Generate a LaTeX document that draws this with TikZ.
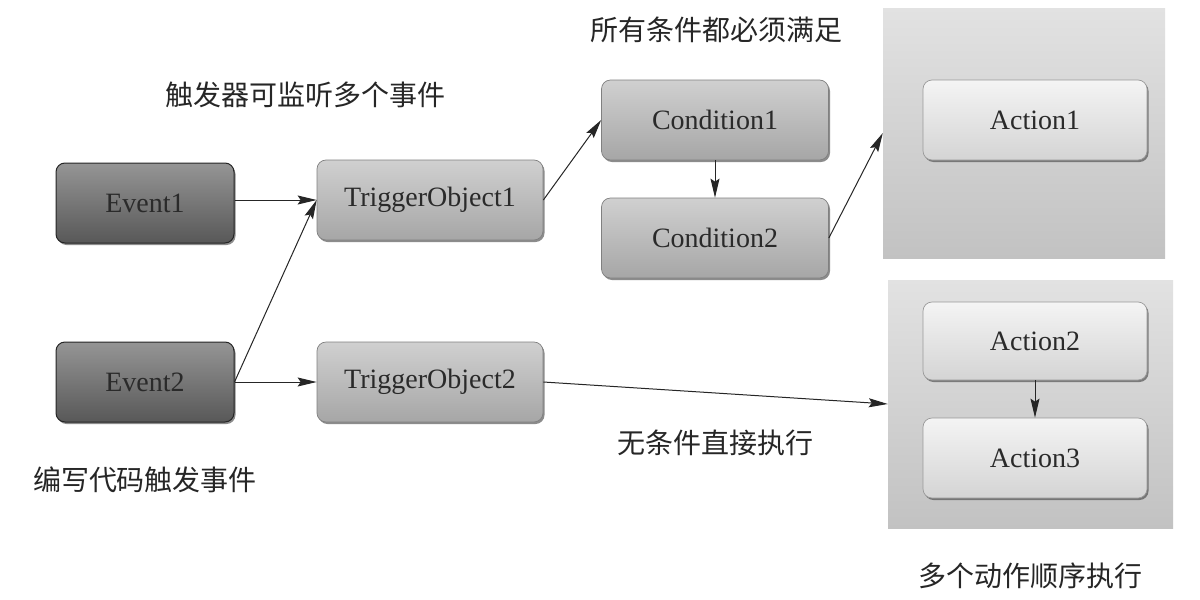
\documentclass[tikz,border=0pt]{standalone}
\usepackage{fontspec}
\setmainfont{Liberation Serif}
\newfontfamily\cjk{Noto Sans CJK SC}
\usetikzlibrary{arrows.meta,shadows}
\definecolor{evtop}{HTML}{959595}
\definecolor{evbot}{HTML}{585858}
\definecolor{mdtop}{HTML}{D0D0D0}
\definecolor{mdbot}{HTML}{A6A6A6}
\definecolor{actop}{HTML}{F4F4F4}
\definecolor{acbot}{HTML}{D4D4D4}
\definecolor{pntop}{HTML}{E2E2E2}
\definecolor{pnbot}{HTML}{C2C2C2}
\definecolor{txt}{HTML}{2A2A2A}
\tikzset{
  basebox/.style={rectangle, rounded corners=9pt, minimum width=226pt, minimum height=80pt,
    inner sep=0pt, font=\fontsize{28}{30}\selectfont, text=txt,
    drop shadow={shadow xshift=1.5pt, shadow yshift=-2pt, opacity=0.6, fill=black!75}},
  evbox/.style={basebox, minimum width=178pt, top color=evtop, bottom color=evbot, draw=black!85, line width=1pt},
  midbox/.style={basebox, top color=mdtop, bottom color=mdbot, draw=black!50, line width=0.7pt},
  actbox/.style={basebox, minimum width=224pt, top color=actop, bottom color=acbot, draw=black!40, line width=0.7pt},
  panel/.style={rectangle, inner sep=0pt, top color=pntop, bottom color=pnbot, draw=none},
  cjklabel/.style={font=\cjk\fontsize{28}{30}\selectfont, text=black!85, inner sep=0pt},
  conn/.style={line width=1pt, black!85, -{Stealth[length=19pt,width=9pt,inset=3pt]}}
}
\begin{document}
\begin{tikzpicture}[x=1pt,y=-1pt]
\useasboundingbox[fill=white] (0,0) rectangle (1200,600);
% panels
\node[panel, minimum width=282pt, minimum height=250pt] (p1) at (1024,133) {};
\node[panel, minimum width=285pt, minimum height=248pt] (p2) at (1030.5,404) {};
% boxes
\node[evbox] (e1) at (145,203) {Event1};
\node[evbox] (e2) at (145,382) {Event2};
\node[midbox] (t1) at (430,200) {TriggerObject1};
\node[midbox] (t2) at (430,382) {TriggerObject2};
\node[midbox, minimum width=227pt] (c1) at (715,120) {Condition1};
\node[midbox, minimum width=227pt] (c2) at (715,238) {Condition2};
\node[actbox] (a1) at (1035,120) {Action1};
\node[actbox, minimum height=78pt] (a2) at (1035,341) {Action2};
\node[actbox] (a3) at (1035,458) {Action3};
% labels
\node[cjklabel] (l1) at (716,30) {所有条件都必须满足};
\node[cjklabel] (l2) at (305,95) {触发器可监听多个事件};
\node[cjklabel] (l3) at (145,480) {编写代码触发事件};
\node[cjklabel] (l4) at (715,443) {无条件直接执行};
\node[cjklabel] (l5) at (1030,576) {多个动作顺序执行};
% connectors
\draw[conn] (e1.east |- t1.west) -- (t1.west);
\draw[conn] (e2.east) -- (t1.west);
\draw[conn] (e2.east) -- (t2.west);
\draw[conn] (t1.east) -- (c1.west);
\draw[conn] (c1.south) -- (c2.north);
\draw[conn] (c2.east) -- (p1.west);
\draw[conn] (t2.east) -- (p2.west);
\draw[conn] (a2.south) -- (a3.north);
\end{tikzpicture}
\end{document}
